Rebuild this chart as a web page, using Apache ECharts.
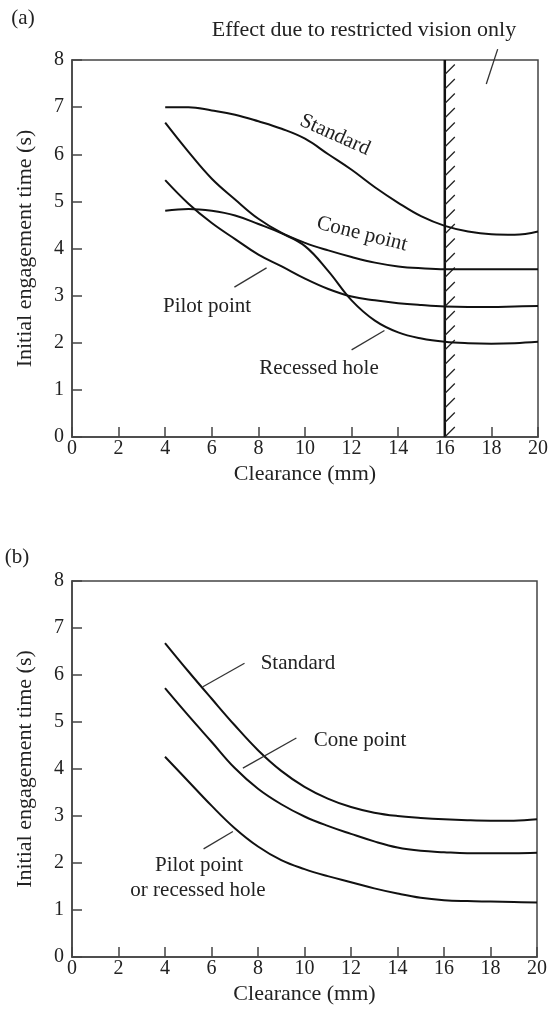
<!DOCTYPE html>
<html>
<head>
<meta charset="utf-8">
<script src="https://cdn.jsdelivr.net/npm/echarts@6/dist/echarts.min.js"></script>
<style>
html,body{margin:0;padding:0;background:#fff}
#main{width:554px;height:1017px}
</style>
</head>
<body>
<div id="main"></div>
<script>
// clearance (mm)
var clearance = [4,5,6,7,8,9,10,11,12,13,14,15,16,17,18,19,20];
// (a) initial engagement time (s)
var aStandard = [7.0,7.0,6.93,6.84,6.7,6.54,6.33,6.0,5.67,5.3,4.97,4.68,4.48,4.36,4.3,4.29,4.36];
var aCone     = [6.67,6.05,5.48,5.04,4.63,4.33,4.12,3.96,3.82,3.7,3.62,3.58,3.56,3.56,3.56,3.56,3.56];
var aPilot    = [5.45,4.95,4.54,4.2,3.87,3.62,3.36,3.14,2.98,2.9,2.84,2.8,2.77,2.76,2.76,2.77,2.78];
var aRecessed = [4.8,4.84,4.8,4.7,4.52,4.32,4.05,3.52,2.9,2.47,2.22,2.09,2.02,1.99,1.98,1.99,2.02];
// (b)
var bStandard = [6.68,6.08,5.5,4.93,4.4,3.96,3.62,3.37,3.19,3.07,3.0,2.96,2.93,2.91,2.9,2.9,2.93];
var bCone     = [5.72,5.14,4.58,4.02,3.58,3.25,2.99,2.79,2.62,2.46,2.33,2.26,2.23,2.21,2.21,2.21,2.22];
var bPilot    = [4.26,3.74,3.22,2.74,2.35,2.06,1.87,1.72,1.59,1.46,1.35,1.26,1.21,1.19,1.18,1.17,1.16];
// restricted vision limit in (a)
var visionLimit = 16;
// leader lines (data coords)
var leaderEffect  = [[18.27,8.23],[17.78,7.49]];
var leaderAPilot  = [[6.97,3.18],[8.35,3.59]];
var leaderARecess = [[12.0,1.85],[13.41,2.26]];
var leaderBStd    = [[7.42,6.25],[5.63,5.75]];
var leaderBCone   = [[9.65,4.66],[7.35,4.02]];
var leaderBPilot  = [[6.92,2.67],[5.66,2.30]];

function pairs(v){
	var out=[];
	for(var i=0;i<clearance.length;i++){ out.push([clearance[i], v[i]]); }
	return out;
}

var FONT = 'Liberation Serif';
var INK = '#222';
var AXC = '#444';

function xAx(idx){
	return {
		type:'value', gridIndex:idx, min:0, max:20, interval:2,
		name:'Clearance (mm)', nameLocation:'middle', nameGap:26,
		nameTextStyle:{fontFamily:FONT, fontSize:22, color:INK},
		axisLine:{lineStyle:{color:AXC, width:1.5}},
		axisTick:{inside:true, length:10, lineStyle:{color:AXC, width:1.5}},
		axisLabel:{fontFamily:FONT, fontSize:20, color:INK, margin:2},
		splitLine:{show:false}
	};
}
function yAx(idx){
	return {
		type:'value', gridIndex:idx, min:0, max:8, interval:1,
		name:'Initial engagement time (s)', nameLocation:'middle', nameGap:36,
		nameTextStyle:{fontFamily:FONT, fontSize:22, color:INK},
		axisLine:{lineStyle:{color:AXC, width:1.5}},
		axisTick:{inside:true, length:10, lineStyle:{color:AXC, width:1.5}},
		axisLabel:{fontFamily:FONT, fontSize:20, color:INK, margin:8},
		splitLine:{show:false}
	};
}
function curve(idx, v){
	return {
		type:'line', xAxisIndex:idx, yAxisIndex:idx, data:pairs(v),
		smooth:0.4, showSymbol:false, symbol:'none', silent:true,
		lineStyle:{color:'#111', width:2}
	};
}
function leader(idx, pts){
	return {
		type:'line', xAxisIndex:idx, yAxisIndex:idx, data:pts, clip:false,
		symbol:'none', silent:true, lineStyle:{color:'#333', width:1.3}
	};
}
function label(txt, x, y, rot, size){
	return {
		type:'text', x:x, y:y, rotation:(rot||0)*Math.PI/180,
		style:{text:txt, font:(size||21)+'px "'+FONT+'"', fill:INK, align:'center', verticalAlign:'middle'}
	};
}

var myChart = echarts.init(document.getElementById('main'));
var option = {
	backgroundColor:'#fff',
	animation:false,
	grid:[
		{left:72, top:60, width:466, height:377, show:true, borderColor:AXC, borderWidth:1.5},
		{left:72, top:581, width:465, height:376, show:true, borderColor:AXC, borderWidth:1.5}
	],
	xAxis:[xAx(0), xAx(1)],
	yAxis:[yAx(0), yAx(1)],
	series:[
		curve(0, aStandard), curve(0, aCone), curve(0, aPilot), curve(0, aRecessed),
		curve(1, bStandard), curve(1, bCone), curve(1, bPilot),
		leader(0, leaderEffect), leader(0, leaderAPilot), leader(0, leaderARecess),
		leader(1, leaderBStd), leader(1, leaderBCone), leader(1, leaderBPilot),
		{
			// hatched limit line
			type:'custom', xAxisIndex:0, yAxisIndex:0, silent:true, clip:false,
			data:[[visionLimit, 0, 8]],
			renderItem:function(params, api){
				var top = api.coord([api.value(0), api.value(2)]);
				var bot = api.coord([api.value(0), api.value(1)]);
				var kids = [{type:'line', shape:{x1:top[0], y1:top[1], x2:bot[0], y2:bot[1]},
					style:{stroke:'#111', lineWidth:2.5}}];
				for(var y=bot[1]; y>top[1]+8; y-=14.5){
					kids.push({type:'line', shape:{x1:top[0], y1:y, x2:top[0]+10, y2:y-10},
						style:{stroke:'#222', lineWidth:1.2}});
				}
				return {type:'group', children:kids};
			}
		}
	],
	graphic:[
		label('(a)', 23, 18),
		label('Effect due to restricted vision only', 364, 30, 0, 22),
		label('Standard', 335, 135, -24),
		label('Cone point', 362, 234, -14),
		label('Pilot point', 207, 306),
		label('Recessed hole', 319, 368),
		label('(b)', 17, 557),
		label('Standard', 298, 663),
		label('Cone point', 360, 740),
		label('Pilot point', 199, 865),
		label('or recessed hole', 198, 890)
	]
};
myChart.setOption(option);
</script>
</body>
</html>
